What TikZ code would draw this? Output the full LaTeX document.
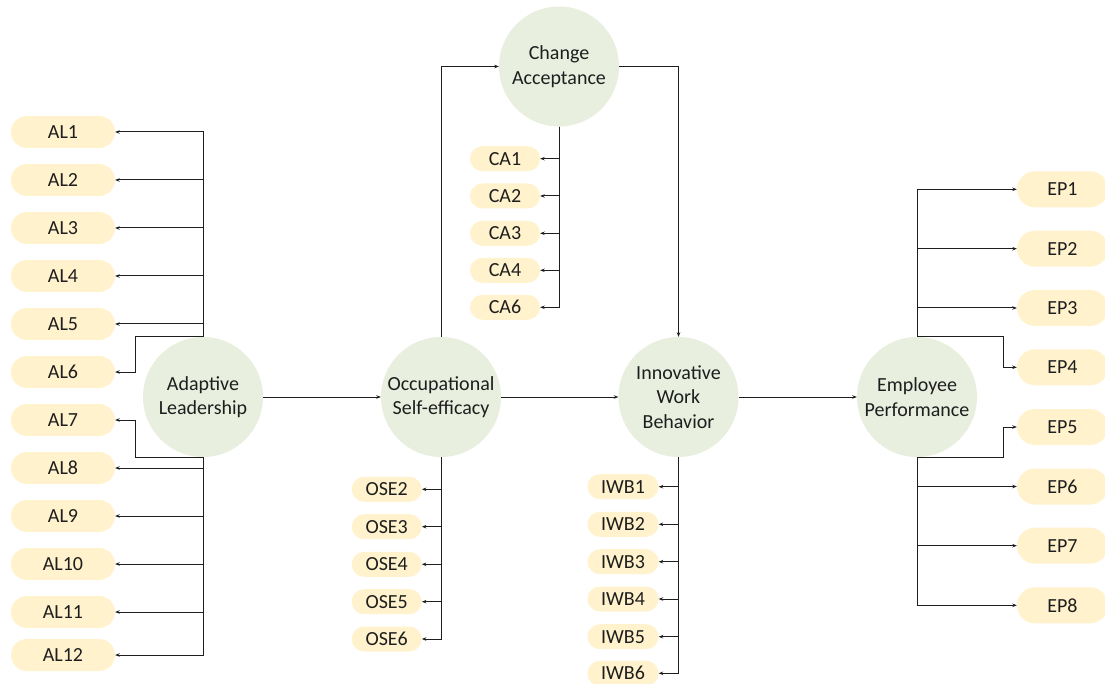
\documentclass[tikz,border=0pt]{standalone}
\usepackage{fontspec}
\setmainfont{Carlito}
\usetikzlibrary{arrows.meta}
\definecolor{latentfill}{HTML}{E8EFDF}
\definecolor{itemfill}{HTML}{FFF2CC}
\definecolor{ink}{HTML}{1E1E1E}
\tikzset{
  latent/.style={circle, fill=latentfill, minimum size=120pt, inner sep=0pt,
    align=center, text=ink, font=\fontsize{20}{24.4}\selectfont},
  item/.style={rectangle, fill=itemfill, inner sep=0pt, text=ink,
    font=\fontsize{20}{24}\selectfont},
  bigitem/.style={item, minimum width=104pt, minimum height=32pt, rounded corners=16pt},
  smallitem/.style={item, minimum width=70pt, minimum height=25pt, rounded corners=12.5pt},
  epitem/.style={item, minimum width=91pt, minimum height=36pt, rounded corners=18pt},
  link/.style={draw=ink, line width=1pt, -{Stealth[length=4.5pt,width=3.5pt]}}
}
\begin{document}
\begin{tikzpicture}[x=1pt,y=-1pt]
\clip (0,0) rectangle (1105,684);
\fill[white] (0,0) rectangle (1105,684);

% latent constructs
\node[latent] (AL)  at (203,397) {Adaptive\\Leadership};
\node[latent] (OSE) at (441,397) {Occupational\\Self-efficacy};
\node[latent] (CA)  at (559,66.5) {Change\\Acceptance};
\node[latent] (IWB) at (678.5,397) {Innovative\\Work\\Behavior};
\node[latent] (EP)  at (917,397) {Employee\\Performance};

% Adaptive Leadership items
\foreach \i/\y in {1/132,2/180,3/228,4/276,5/324,6/372,7/420,8/468,9/516,10/564,11/612,12/655}
  \node[bigitem] (AL\i) at (63,\y) {AL\i};

% Change Acceptance items
\foreach \i/\y in {1/158.7,2/196,3/233.3,4/270.3,6/307.3}
  \node[smallitem] (CA\i) at (505,\y) {CA\i};

% Occupational Self-efficacy items
\foreach \i/\y in {2/489.3,3/526.7,4/564.3,5/601.7,6/639}
  \node[smallitem] (OSE\i) at (386.7,\y) {OSE\i};

% Innovative Work Behavior items
\foreach \i/\y in {1/486.7,2/524.3,3/561.7,4/599,5/636.7,6/673.3}
  \node[smallitem, minimum width=71pt] (IWB\i) at (623,\y) {IWB\i};

% Employee Performance items
\foreach \i/\y in {1/189.3,2/248.7,3/308,4/367.3,5/427,6/486.5,7/545.7,8/605.3}
  \node[epitem] (EP\i) at (1062.5,\y) {EP\i};

% structural paths
\draw[link] (AL) -- (OSE);
\draw[link] (OSE) -- (IWB);
\draw[link] (IWB) -- (EP);
\draw[link] (OSE.north) |- (CA.west);
\draw[link] (CA.east) -| (IWB.north);

% Adaptive Leadership loadings
\foreach \i in {1,...,5}
  \draw[link] (AL.north) |- (AL\i.east);
\draw[link] (AL.north) -- ++(-68,0) |- (AL6.east);
\draw[link] (AL.south) -- ++(-68,0) |- (AL7.east);
\foreach \i in {8,...,12}
  \draw[link] (AL.south) |- (AL\i.east);

% Change Acceptance loadings
\foreach \i in {1,2,3,4,6}
  \draw[link] (CA.south) |- (CA\i.east);

% Occupational Self-efficacy loadings
\foreach \i in {2,...,6}
  \draw[link] (OSE.south) |- (OSE\i.east);

% Innovative Work Behavior loadings
\foreach \i in {1,...,6}
  \draw[link] (IWB.south) |- (IWB\i.east);

% Employee Performance loadings
\foreach \i in {1,2,3}
  \draw[link] (EP.north) |- (EP\i.west);
\draw[link] (EP.north) -- ++(86,0) |- (EP4.west);
\draw[link] (EP.south) -- ++(86,0) |- (EP5.west);
\foreach \i in {6,7,8}
  \draw[link] (EP.south) |- (EP\i.west);
\end{tikzpicture}
\end{document}
